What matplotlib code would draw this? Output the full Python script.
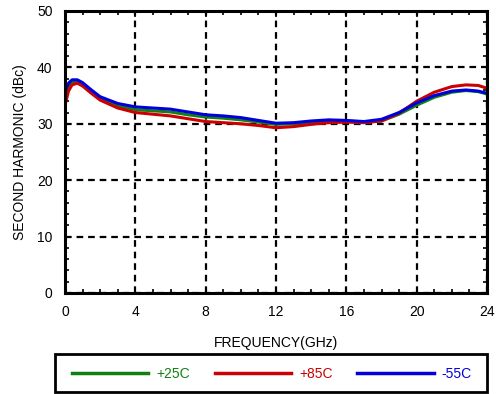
import matplotlib
matplotlib.use("Agg")
import matplotlib.pyplot as plt
from matplotlib.ticker import MultipleLocator
from matplotlib.lines import Line2D
from matplotlib.patches import Rectangle

plt.rcParams['font.family'] = ['Liberation Sans', 'DejaVu Sans']

freq = [0, 0.2, 0.4, 0.7, 1.0, 1.5, 2, 3, 4, 5, 6, 7, 8, 9, 10, 11, 12, 13, 14, 15,
        16, 17, 18, 19, 20, 21, 22, 22.8, 23.5, 24]
p25 = [34.5, 36.5, 37.3, 37.5, 37.0, 35.8, 34.5, 33.2, 32.5, 32.3, 32.1, 31.6, 31.2, 31.0,
       30.7, 30.3, 29.9, 30.0, 30.3, 30.5, 30.5, 30.3, 30.5, 31.7, 33.3, 34.7, 35.6, 35.9, 35.7, 35.3]
p85 = [33.3, 35.8, 36.9, 37.2, 36.7, 35.4, 34.2, 32.8, 32.0, 31.7, 31.4, 30.9, 30.4, 30.2,
       30.0, 29.7, 29.3, 29.5, 29.9, 30.2, 30.3, 30.2, 30.5, 31.9, 34.0, 35.6, 36.6, 36.9, 36.8, 36.3]
m55 = [35.8, 37.2, 37.8, 37.8, 37.3, 36.0, 34.8, 33.6, 33.0, 32.8, 32.6, 32.1, 31.6, 31.4,
       31.1, 30.6, 30.1, 30.2, 30.5, 30.7, 30.6, 30.4, 30.8, 32.0, 33.7, 35.0, 35.8, 36.0, 35.8, 35.4]
labels = ['+25C', '+85C', '-55C']
colors = ['#118011', '#cc0000', '#0000dd']

fig = plt.figure(figsize=(4.96, 3.94), dpi=100)
ax = fig.add_axes([65/496, 1-293/394, (487-65)/496, (293-11)/394])

for y, c in zip([p25, p85, m55], colors):
    ax.plot(freq, y, color=c, lw=2.2, solid_capstyle='butt')

ax.set_xlim(0, 24)
ax.set_ylim(0, 50)
ax.xaxis.set_major_locator(MultipleLocator(4))
ax.xaxis.set_minor_locator(MultipleLocator(1))
ax.yaxis.set_major_locator(MultipleLocator(10))
ax.yaxis.set_minor_locator(MultipleLocator(2))
ax.tick_params(which='both', direction='in', top=True, right=True, labelsize=10, width=1.2, color='black')
ax.tick_params(which='major', length=4)
ax.tick_params(which='minor', length=3)
ax.tick_params(axis='x', pad=9)
ax.tick_params(axis='y', pad=9)
ax.grid(True, which='major', color='black', ls=(0, (3, 2.2)), lw=1.6)
for s in ax.spines.values():
    s.set_linewidth(2.2)
ax.set_xlabel('FREQUENCY(GHz)', fontsize=10, labelpad=12)
ax.set_ylabel('SECOND HARMONIC (dBc)', fontsize=10, labelpad=7)

fig.patches.append(Rectangle((55/496, 2/394), 432/496, 38/394, transform=fig.transFigure,
                             fill=False, lw=2, ec='black'))
handles = [Line2D([], [], color=c, lw=2.5) for c in colors]
leg = fig.legend(handles, labels, loc='center left', ncol=3, mode='expand',
                 bbox_to_anchor=(72/496, (394-374)/394, 400/496, 0),
                 frameon=False, fontsize=10, borderpad=0,
                 handlelength=5.5, handletextpad=0.6, borderaxespad=0, labelcolor=colors)

fig.savefig('out.png', dpi=100)
